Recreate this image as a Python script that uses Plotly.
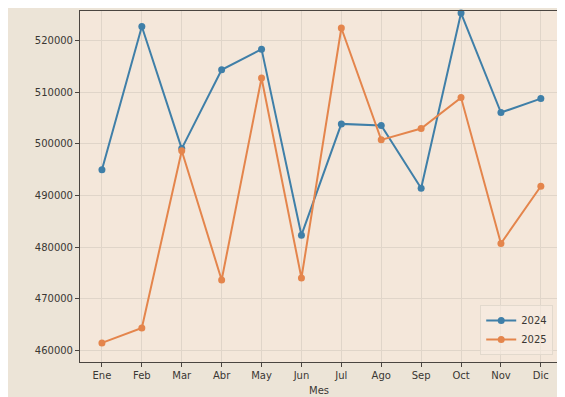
import plotly.graph_objects as go

# monthly values
months = ["Ene", "Feb", "Mar", "Abr", "May", "Jun", "Jul", "Ago", "Sep", "Oct", "Nov", "Dic"]
sales_2024 = [495000, 522800, 499100, 514400, 518400, 482300, 503900, 503600, 491400, 525400, 506100, 508800]
sales_2025 = [461400, 464300, 498700, 473600, 512800, 474000, 522500, 500800, 503000, 509000, 480700, 491800]
y_ticks = [460000, 470000, 480000, 490000, 500000, 510000, 520000]

BLUE = "#3f7fa8"
ORANGE = "#e4854c"
TEXT = "#3a3733"

fig = go.Figure()
fig.add_trace(go.Scatter(
    x=months, y=sales_2024, name="2024", mode="lines+markers",
    line=dict(color=BLUE, width=2), marker=dict(color=BLUE, size=7),
    cliponaxis=False,
))
fig.add_trace(go.Scatter(
    x=months, y=sales_2025, name="2025", mode="lines+markers",
    line=dict(color=ORANGE, width=2), marker=dict(color=ORANGE, size=7),
    cliponaxis=False,
))

# the page body adds an 8px offset, so the figure is sized to the visible area
fig.update_layout(
    width=557, height=389,
    margin=dict(l=72, r=7, t=3, b=35),
    paper_bgcolor="#ece4d7",
    plot_bgcolor="#f4e7da",
    font=dict(family="DejaVu Sans", size=10, color=TEXT),
    showlegend=True,
    legend=dict(
        x=0.99, y=0.02, xanchor="right", yanchor="bottom",
        bgcolor="rgba(246,236,226,0.6)", bordercolor="#e2d9cd", borderwidth=1,
        font=dict(size=10, color=TEXT),
    ),
    xaxis=dict(
        type="category", range=[-0.55, 11.43],
        showgrid=True, gridcolor="#e0d5c9", gridwidth=1,
        showline=True, linecolor="#4a4540", linewidth=1, mirror=True,
        ticks="outside", ticklen=4, tickcolor="#4a4540",
        title=dict(text="Mes", standoff=6, font=dict(size=10)),
    ),
    yaxis=dict(
        range=[457700, 525800], tickvals=y_ticks, tickformat="d",
        showgrid=True, gridcolor="#e0d5c9", gridwidth=1,
        showline=True, linecolor="#4a4540", linewidth=1, mirror=True,
        ticks="outside", ticklen=4, tickcolor="#4a4540",
        zeroline=False,
    ),
)

fig.write_html("out.html")
